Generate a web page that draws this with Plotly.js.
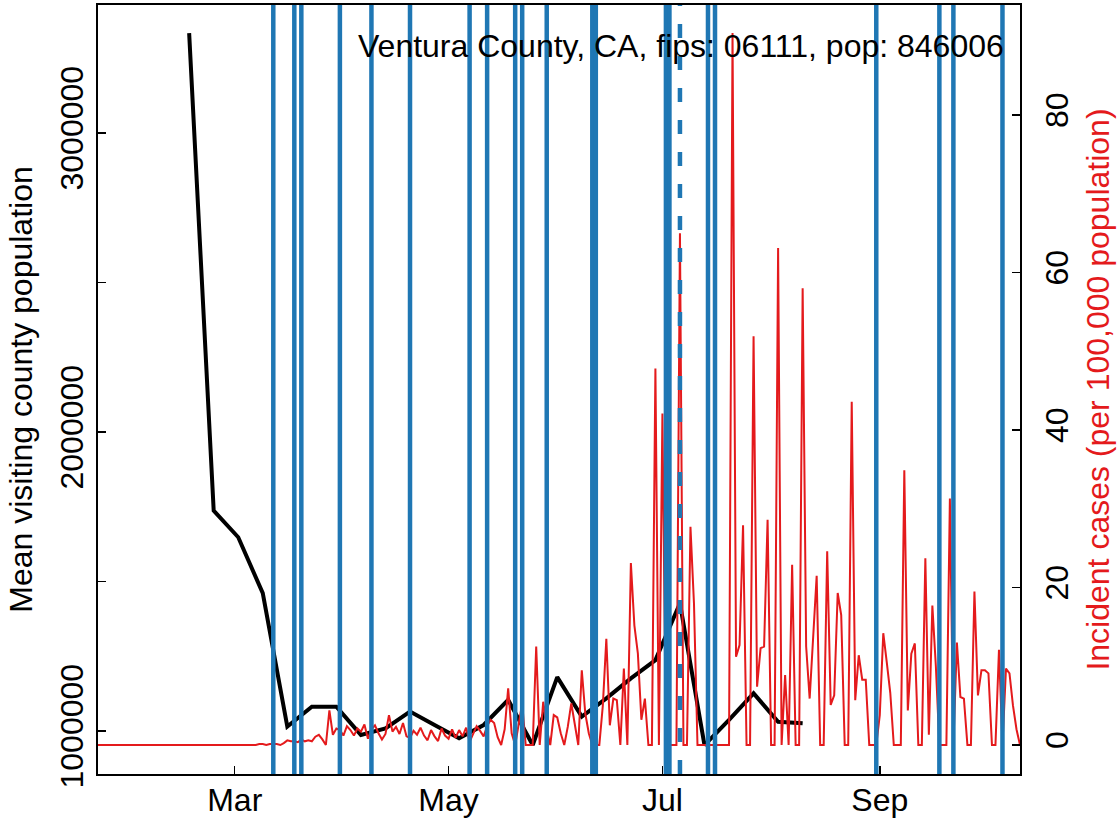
<!DOCTYPE html>
<html>
<head>
<meta charset="utf-8">
<script src="https://cdn.plot.ly/plotly-3.0.1.min.js"></script>
<style>html,body{margin:0;padding:0;background:#fff;}#chart{width:1119px;height:822px;}</style>
</head>
<body>
<div id="chart"></div>
<script>
// ---- data ----
const titleText = "Ventura County, CA, fips: 06111, pop: 846006";
const leftAxisTitle = "Mean visiting county population";
const rightAxisTitle = "Incident cases (per 100,000 population)";

// weekly mean visiting county population
const weekDates = ["2020-02-17","2020-02-24","2020-03-02","2020-03-09","2020-03-16","2020-03-23","2020-03-30",
  "2020-04-06","2020-04-13","2020-04-20","2020-04-27","2020-05-04","2020-05-11","2020-05-18","2020-05-25",
  "2020-06-01","2020-06-08","2020-06-15","2020-06-22","2020-06-29","2020-07-06","2020-07-13","2020-07-20",
  "2020-07-27","2020-08-03","2020-08-10"];
const visitPop = [3334000,1737000,1648000,1461000,1015000,1081000,1081000,
  987000,1009000,1065000,1020000,976000,1020000,1104000,953000,
  1180000,1048000,1109000,1176000,1237000,1427000,953000,1037000,
  1126000,1031000,1026000];

// daily incident cases per 100k, starting 2020-01-22
const caseStart = "2020-01-22";
const cases = [
  0,0,0,0,0,0,0,0,0,0,
  0,0,0,0,0,0,0,0,0,0,
  0,0,0,0,0,0,0,0,0,0,
  0,0,0,0,0,0,0,0,0,0,
  0,0,0,0,0,0,0.12,0.12,0,0.12,
  0.12,0.12,0,0.24,0.59,0.47,0.47,0.35,0.71,0.47,
  0.59,0.47,1.06,1.3,0.71,0,4.4,1.3,2.1,1.9,
  1.2,2.4,1.9,1.2,2.1,1.7,2.6,0.8,2.0,2.5,
  1.5,0.7,1.4,3.8,1.7,2.3,1.4,2.8,1.1,0.9,
  1.8,1.3,2.2,1.2,0.6,1.9,1.1,0.5,2.1,1.2,
  0.8,2.0,0.9,1.9,1.1,2.2,0.4,1.5,2.4,1.8,
  1.1,2.4,3.2,2.8,1.0,0,2.0,7.2,1.5,0,
  2.6,5.3,0,0,0,12.5,0,5.5,2.0,0,
  3.8,3.5,1.5,0,2.3,5.3,2.6,0,9.5,4.0,
  1.5,0,0,0,5.0,13.5,2.5,5.9,5.7,0,
  9.7,0,23.1,15.2,11.6,3.2,5.9,0,0,47.8,
  0,42.1,0,0,0,0,65,0,0,27.7,
  18,0,0,0,0,0,0,0,0,0,
  0,90.4,11.2,12.7,27.9,0,0,51.9,7.4,12.3,
  12.5,28.6,0,0,63.1,0,8.9,0,22.9,0,
  0,58,12.5,5.9,14,21.5,0,0,24.6,5.1,
  6.3,19.3,16.5,0,0,43.6,5.7,11.4,8.3,8.3,
  0,0,0,3.8,14.2,10.5,6.6,0,0,0,
  34.9,4.4,11.6,12.9,0,0,23.7,1.3,17.7,10,
  0,0,0,31.3,0,13,6.1,5.9,0,0,
  19.5,6.3,9.5,9.5,9.1,0,0,12.1,0,9.7,
  9.1,5,2,0
];

// event dates (solid) and the dashed one
const eventDates = ["2020-03-12","2020-03-18","2020-03-20","2020-03-31","2020-04-09","2020-04-20",
  "2020-05-07","2020-05-12","2020-05-20","2020-05-22","2020-05-29","2020-06-11","2020-06-12",
  "2020-07-02","2020-07-03","2020-07-14","2020-07-16","2020-08-31","2020-09-18","2020-09-22","2020-10-06"];
const dashedDates = ["2020-07-06"];

const xTickVals = ["2020-03-01","2020-05-01","2020-07-01","2020-09-01"];
const xTickText = ["Mar","May","Jul","Sep"];
const yLeftTicks = [1000000,1500000,2000000,2500000,3000000];
const yLeftText = ["1000000","","2000000","","3000000"];
const yRightTicks = [0,20,40,60,80];
const yRightText = ["0","20","40","60","80"];

// ---- build ----
function addDays(s, n){
  const d = new Date(s + "T00:00:00Z");
  d.setUTCDate(d.getUTCDate() + n);
  return d.toISOString().slice(0,10);
}
const caseDates = cases.map((_, i) => addDays(caseStart, i));

const FONT = "Liberation Sans, Arial, sans-serif";
const BLUE = "#1f77b4";
const RED = "#e41a1c";

const traces = [
  {x: weekDates, y: visitPop, type: "scatter", mode: "lines", yaxis: "y",
   line: {color: "#000", width: 4}, hoverinfo: "skip", showlegend: false},
  {x: caseDates, y: cases, type: "scatter", mode: "lines", yaxis: "y2",
   line: {color: RED, width: 2}, hoverinfo: "skip", showlegend: false}
];

const shapes = [];
eventDates.forEach(d => shapes.push({type: "line", xref: "x", yref: "paper", x0: d, x1: d, y0: 0, y1: 1,
  line: {color: BLUE, width: 4.5}, layer: "above"}));
dashedDates.forEach(d => shapes.push({type: "line", xref: "x", yref: "paper", x0: d, x1: d, y0: 0, y1: 1,
  line: {color: BLUE, width: 4.5, dash: "14px,18px"}, layer: "above"}));

const layout = {
  width: 1119, height: 822,
  margin: {l: 98, r: 99, t: 5, b: 48},
  paper_bgcolor: "#fff", plot_bgcolor: "#fff",
  font: {family: FONT, size: 32, color: "#000"},
  showlegend: false,
  xaxis: {type: "date", range: ["2020-01-22", "2020-10-11"], tickmode: "array",
    tickvals: xTickVals, ticktext: xTickText, ticks: "inside", ticklen: 8, tickwidth: 1.5,
    tickcolor: "#000", showline: true, linecolor: "#000", linewidth: 2, mirror: true,
    showgrid: false, zeroline: false, tickfont: {size: 32, family: FONT}, ticklabelstandoff: -3},
  yaxis: {range: [856187, 3428100], tickmode: "array", tickvals: yLeftTicks, ticktext: yLeftText,
    tickangle: -90, ticks: "inside", ticklen: 8, tickwidth: 1.5, tickcolor: "#000",
    showline: true, linecolor: "#000", linewidth: 2, showgrid: false, zeroline: false,
    tickfont: {size: 32, family: FONT},
    title: {text: leftAxisTitle, font: {size: 32, family: FONT, color: "#000"}, standoff: 12}},
  yaxis2: {overlaying: "y", side: "right", range: [-3.68, 93.97], tickmode: "array",
    tickvals: yRightTicks, ticktext: yRightText, tickangle: -90, ticks: "inside", ticklen: 8,
    tickwidth: 1.5, tickcolor: "#000", showline: true, linecolor: "#000", linewidth: 2,
    showgrid: false, zeroline: false, tickfont: {size: 32, family: FONT}, ticklabelstandoff: 8,
    title: {text: rightAxisTitle, font: {size: 32, family: FONT, color: RED}, standoff: 12}},
  shapes: shapes,
  annotations: [{text: titleText, xref: "paper", yref: "paper", x: 1, y: 0.9467,
    xanchor: "right", yanchor: "middle", xshift: -14, showarrow: false,
    font: {size: 32, family: FONT, color: "#000"}}]
};

Plotly.newPlot("chart", traces, layout, {displayModeBar: false, staticPlot: true});
</script>
</body>
</html>
